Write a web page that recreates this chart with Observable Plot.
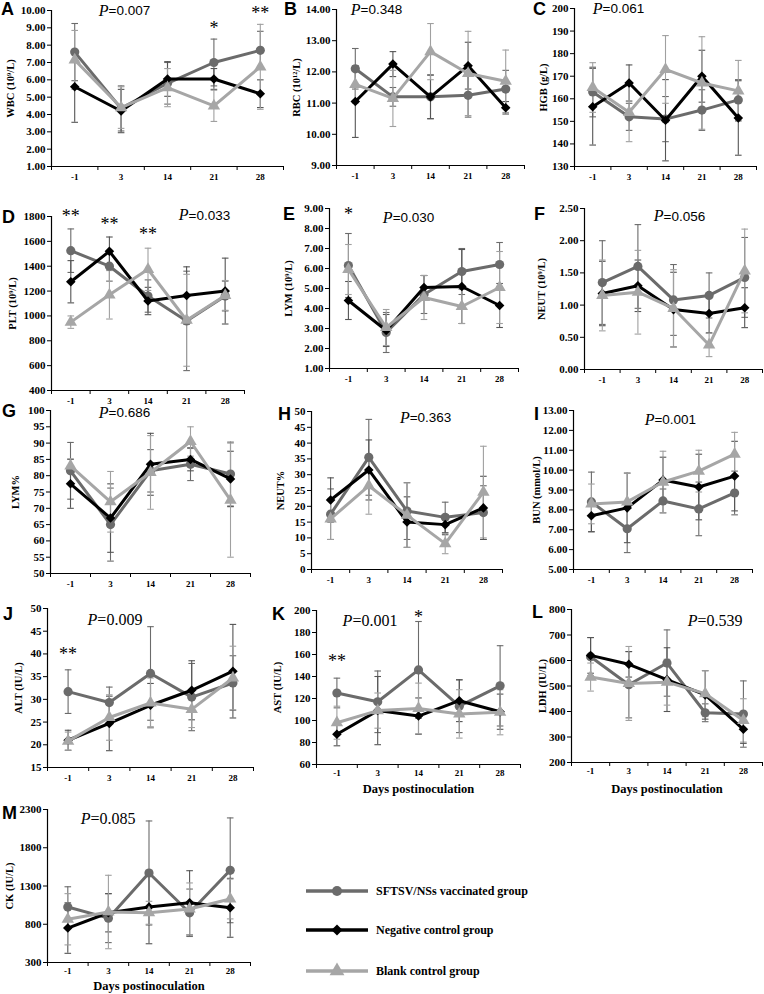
<!DOCTYPE html>
<html><head><meta charset="utf-8">
<script src="https://cdn.jsdelivr.net/npm/d3@7"></script>
<script src="https://cdn.jsdelivr.net/npm/@observablehq/plot@0.6"></script>
<style>
body{margin:0;background:#fff;}
#root{position:relative;width:764px;height:994px;overflow:hidden;background:#fff;}
.letter{position:absolute;font-family:"Liberation Sans",Arial,sans-serif;font-weight:bold;font-size:18px;line-height:1;color:#000;}
.leg{position:absolute;display:flex;align-items:center;font-family:"Liberation Serif","Times New Roman",serif;font-weight:bold;font-size:12px;color:#000;}
</style></head><body><div id="root"></div><script>
// ---- categories & groups ----
const days = ["-1", "3", "14", "21", "28"];
const groups = ["SFTSV/NSs vaccinated group", "Negative control group", "Blank control group"];
const groupColors = ["#6b6b6b", "#000000", "#a6a6a6"];
const errColors = ["#6b6b6b", "#555555", "#a0a0a0"];
const groupSymbols = ["circle", "diamond2", "triangle"];

// ---- values: [vaccinated, negative control, blank control] ----
const wbcMean = [[7.6, 4.35, 5.8, 7.0, 7.7], [5.6, 4.2, 6.05, 6.05, 5.2], [7.15, 4.4, 5.55, 4.5, 6.75]];
const wbcSD = [[1.65, 1.3, 1.2, 1.35, 1.1], [2.05, 1.25, 1.0, 0.6, 0.8], [1.7, 1.2, 1.1, 0.9, 2.45]];
const rbcMean = [[12.1, 11.2, 11.2, 11.25, 11.45], [11.05, 12.25, 11.2, 12.2, 10.85], [11.6, 11.15, 12.65, 11.95, 11.7]];
const rbcSD = [[0.65, 0.3, 0.7, 0.7, 0.6], [1.15, 0.4, 0.7, 0.75, 0.2], [0.6, 0.9, 0.9, 1.35, 1.0]];
const hgbMean = [[163, 152, 151, 155, 159.5], [156.5, 167, 150.5, 170, 151.5], [165, 154, 173, 167, 163.5]];
const hgbSD = [[11, 6, 10, 9, 9], [17, 8, 18, 11.5, 16.5], [11, 13, 15, 20.5, 13.5]];
const pltMean = [[1525, 1400, 1160, 960, 1160], [1275, 1520, 1120, 1165, 1200], [950, 1170, 1375, 965, 1165]];
const pltSD = [[175, 120, 130, 400, 120], [170, 115, 110, 230, 265], [50, 195, 170, 370, 120]];
const lymMean = [[6.15, 2.8, 4.7, 5.85, 6.2], [4.4, 2.9, 5.05, 5.1, 4.15], [5.95, 3.05, 4.55, 4.1, 5.05]];
const lymSD = [[1.6, 1.0, 0.95, 1.15, 1.1], [0.95, 0.8, 0.6, 1.85, 1.1], [1.25, 0.9, 1.1, 0.85, 1.8]];
const neutMean = [[1.35, 1.6, 1.08, 1.15, 1.43], [1.18, 1.3, 0.93, 0.87, 0.96], [1.15, 1.2, 0.95, 0.38, 1.53]];
const neutSD = [[0.65, 0.65, 0.55, 0.35, 0.62], [0.5, 0.4, 0.58, 0.3, 0.31], [0.55, 0.65, 0.6, 0.18, 0.65]];
const lymPctMean = [[81.5, 65, 81.5, 83.5, 80.5], [77.5, 67, 83.5, 85, 79], [83, 72, 81, 90.5, 72.5]];
const lymPctSD = [[8.7, 11.2, 6.5, 5, 9.8], [7.5, 10.5, 9.5, 3.5, 8.5], [2.2, 9.3, 11.3, 4.5, 17.5]];
const neutPctMean = [[17.5, 35.5, 18.5, 16.5, 18], [22, 31.5, 15, 14.2, 19.5], [16, 26.5, 17.2, 8.2, 24.5]];
const neutPctSD = [[8, 12, 9, 4.8, 8.5], [7, 9.5, 8, 3.2, 10], [6.5, 9, 10.2, 3.2, 14.5]];
const bunMean = [[8.4, 7.05, 8.45, 8.05, 8.85], [7.7, 8.1, 9.5, 9.15, 9.7], [8.3, 8.4, 9.4, 9.95, 10.8]];
const bunSD = [[1.5, 1.2, 0.6, 1.35, 1.1], [0.8, 1.75, 1.15, 1.65, 1.75], [1.0, 1.45, 1.55, 1.05, 1.1]];
const altMean = [[31.7, 29.3, 35.7, 30.5, 33.6], [21, 24.7, 28.7, 32, 36.2], [20.8, 26, 29.2, 27.8, 34.7]];
const altSD = [[4.8, 3.4, 10.3, 7.4, 6], [2.2, 6, 4.8, 6.5, 10.3], [2, 5, 5.5, 4, 7]];
const astMean = [[125, 117, 146, 113, 131.5], [87.5, 109, 104, 118, 108], [98, 109, 111, 106, 107.5]];
const astSD = [[13.5, 28, 44, 24, 36.5], [10.5, 31, 16.5, 19, 16], [15, 16, 23, 22, 20.5]];
const ldhMean = [[615, 505, 590, 395, 390], [620, 585, 525, 465, 330], [535, 510, 515, 470, 365]];
const ldhSD = [[75, 130, 130, 35, 130], [70, 50, 125, 95, 55], [55, 145, 90, 90, 85]];
const ckMean = [[1025, 880, 1470, 950, 1505], [750, 950, 1025, 1080, 1015], [865, 960, 950, 1000, 1130]];
const ckSD = [[265, 320, 680, 310, 685], [330, 250, 480, 420, 385], [335, 480, 150, 340, 260]];

// ---- axis labels / p values / significance marks ----
const yLabels = ["WBC (10⁹/L)", "RBC (10¹²/L)", "HGB (g/L)", "PLT (10⁹/L)", "LYM (10⁹/L)", "NEUT (10⁹/L)", "LYM%", "NEUT%", "BUN (mmol/L)", "ALT (IU/L)", "AST (IU/L)", "LDH (IU/L)", "CK (IU/L)"];
const pValues = ["0.007", "0.348", "0.061", "0.033", "0.030", "0.056", "0.686", "0.363", "0.001", "0.009", "0.001", "0.539", "0.085"];
const xTitle = "Days postinoculation";

// ---- layout (frame: left, right, top, bottom in page px) ----
const panels = [
  {L:"A", mean:wbcMean, sd:wbcSD, dom:[1,10], step:1, dec:2, frame:[51,283,10,166], letter:[1,0], ylabX:10, p:[1.23,10.0], pSans:true, stars:[[3.5,9.0,"*"],[4.5,9.85,"**"]]},
  {L:"B", mean:rbcMean, sd:rbcSD, dom:[9,14], step:1, dec:2, frame:[336,524,9,165], letter:[284,0], ylabX:296, p:[0.64,14.0], pSans:true, stars:[]},
  {L:"C", mean:hgbMean, sd:hgbSD, dom:[130,200], step:10, dec:0, frame:[574,756,8,166], letter:[533,0], ylabX:543, p:[0.77,200], pSans:true, stars:[]},
  {L:"D", mean:pltMean, sd:pltSD, dom:[400,1800], step:200, dec:0, frame:[51,244,216,390], letter:[2,208], ylabX:12, p:[3.55,1810], pSans:true, stars:[[0.5,1800,"**"],[1.5,1738,"**"],[2.5,1657,"**"]]},
  {L:"E", mean:lymMean, sd:lymSD, dom:[1,9], step:1, dec:2, frame:[329,518,208,368], letter:[283,205], ylabX:288, p:[1.67,8.55], pSans:true, stars:[[0.5,8.7,"*"]]},
  {L:"F", mean:neutMean, sd:neutSD, dom:[0,2.5], step:0.5, dec:2, frame:[584,762,208,369], letter:[534,205], ylabX:541, p:[2.22,2.38], pSans:true, stars:[]},
  {L:"G", mean:lymPctMean, sd:lymPctSD, dom:[50,100], step:5, dec:0, frame:[50,250,410,573], letter:[2,402], ylabX:15, p:[1.45,99.3], pSans:true, stars:[]},
  {L:"H", mean:neutPctMean, sd:neutPctSD, dom:[0,50], step:5, dec:0, frame:[311,502,411,569], letter:[278,405], ylabX:280, p:[2.57,48], pSans:true, stars:[]},
  {L:"I", mean:bunMean, sd:bunSD, dom:[5,13], step:1, dec:2, frame:[573,752,410,569], letter:[534,405], ylabX:536, p:[2.26,12.55], pSans:true, stars:[]},
  {L:"J", mean:altMean, sd:altSD, dom:[15,50], step:5, dec:0, frame:[47,253,608,767], letter:[3,605], ylabX:18, p:[1.21,47.6], pSans:false, stars:[[0.5,39.9,"**"]]},
  {L:"K", mean:astMean, sd:astSD, dom:[60,200], step:20, dec:0, frame:[316,520,610,764], letter:[272,605], ylabX:277, p:[0.88,191], pSans:false, stars:[[0.5,154,"**"],[2.5,194,"*"]], xt:24},
  {L:"L", mean:ldhMean, sd:ldhSD, dom:[200,800], step:100, dec:0, frame:[571,762,609,762], letter:[532,603], ylabX:542, p:[3.3,757], pSans:false, stars:[], xt:26},
  {L:"M", mean:ckMean, sd:ckSD, dom:[300,2300], step:500, dec:0, frame:[47,250,809,962], letter:[2,804], ylabX:9, p:[1.06,2182], pSans:false, stars:[], xt:23}
];

const capSymbol = {draw(ctx, size) { const w = Math.sqrt(size / Math.PI); ctx.moveTo(-w, 0); ctx.lineTo(w, 0); }};
const markerR = [4.6, 4.3, 4.6];
const root = document.getElementById("root");

panels.forEach((c, k) => {
  const [fl, fr, ft, fb] = c.frame;
  const left = Math.max(0, fl - 62), top = Math.max(0, ft - 14);
  const right = Math.min(764, fr + 6), bottom = fb + (c.xt ? 34 : 22);
  const width = right - left, height = bottom - top;
  const rows = [];
  c.mean.forEach((arr, s) => arr.forEach((m, i) => rows.push({g: s, x: i + 0.5, m, lo: m - c.sd[s][i], hi: m + c.sd[s][i]})));
  const marks = [];
  // error bars
  groups.forEach((g, s) => {
    const r = rows.filter(d => d.g === s);
    marks.push(Plot.ruleX(r, {x: "x", y1: "lo", y2: "hi", stroke: errColors[s], strokeWidth: 1.1}));
    marks.push(Plot.dot(r, {x: "x", y: "lo", symbol: capSymbol, r: 3.3, stroke: errColors[s], strokeWidth: 1.1, fill: "none"}));
    marks.push(Plot.dot(r, {x: "x", y: "hi", symbol: capSymbol, r: 3.3, stroke: errColors[s], strokeWidth: 1.1, fill: "none"}));
  });
  // lines + markers
  groups.forEach((g, s) => {
    const r = rows.filter(d => d.g === s);
    marks.push(Plot.line(r, {x: "x", y: "m", stroke: groupColors[s], strokeWidth: 3}));
    marks.push(Plot.dot(r, {x: "x", y: "m", symbol: groupSymbols[s], r: markerR[s], fill: groupColors[s], stroke: "none"}));
  });
  // axes
  marks.push(Plot.ruleY([c.dom[0]], {stroke: "#000", strokeWidth: 1.2}));
  marks.push(Plot.ruleX([0], {stroke: "#000", strokeWidth: 1.2}));
  marks.push(Plot.axisY({ticks: d3.range(c.dom[0], c.dom[1] + c.step / 2, c.step), tickFormat: d => d.toFixed(c.dec), tickSize: 4, tickPadding: 2, fontSize: 11, label: null}));
  marks.push(Plot.axisX({ticks: d3.range(0, 6), tickFormat: () => "", tickSize: 4, label: null}));
  marks.push(Plot.axisX({ticks: days.map((d, i) => i + 0.5), tickFormat: d => days[Math.floor(d)], tickSize: 0, tickPadding: c.xt ? 5 : 7, fontSize: 9, label: null}));
  marks.push(Plot.text([yLabels[k]], {frameAnchor: "left", rotate: -90, dx: c.ylabX - fl, text: d => d, fontSize: 10.5, textAnchor: "middle", lineAnchor: "middle"}));
  if (c.xt) marks.push(Plot.text([xTitle], {frameAnchor: "bottom", dy: c.xt, text: d => d, fontSize: 12.5, textAnchor: "middle", lineAnchor: "middle"}));
  // p value
  marks.push(Plot.text([c.p], {x: d => d[0], y: d => d[1], text: () => "P", textAnchor: "end", fontStyle: "italic", fontWeight: "normal", fontSize: 16, fontFamily: "Liberation Serif"}));
  marks.push(Plot.text([c.p], {x: d => d[0], y: d => d[1], text: () => "=" + pValues[k], textAnchor: "start", fontWeight: "normal", fontSize: c.pSans ? 13.5 : 16, fontFamily: c.pSans ? "Liberation Sans" : "Liberation Serif"}));
  // significance
  if (c.stars.length) marks.push(Plot.text(c.stars, {x: d => d[0], y: d => d[1], text: d => d[2], fontWeight: "normal", fontSize: 18, fontFamily: "Liberation Serif"}));

  const svg = Plot.plot({
    width, height,
    marginLeft: fl - left, marginRight: right - fr, marginTop: ft - top, marginBottom: bottom - fb,
    x: {domain: [0, 5]},
    y: {domain: c.dom},
    style: {fontFamily: "'Liberation Serif','Times New Roman',serif", fontWeight: "bold", fontSize: "11px", color: "#000", background: "transparent", overflow: "visible"},
    marks
  });
  svg.style.position = "absolute";
  svg.style.left = left + "px";
  svg.style.top = top + "px";
  root.appendChild(svg);

  const lt = document.createElement("div");
  lt.className = "letter";
  lt.textContent = c.L;
  lt.style.left = c.letter[0] + "px";
  lt.style.top = c.letter[1] + "px";
  root.appendChild(lt);
});

// ---- legend ----
const legendY = [891, 930, 971];
groups.forEach((g, s) => {
  const div = document.createElement("div");
  div.className = "leg";
  div.style.left = "304px";
  div.style.top = (legendY[s] - 9) + "px";
  div.style.height = "18px";
  const svg = d3.create("svg").attr("width", 70).attr("height", 18);
  svg.append("line").attr("x1", 2).attr("x2", 64).attr("y1", 9).attr("y2", 9).attr("stroke", groupColors[s]).attr("stroke-width", 3.5);
  const sym = {circle: d3.symbolCircle, diamond2: d3.symbolDiamond2, triangle: d3.symbolTriangle}[groupSymbols[s]];
  const r = s === 0 ? 5 : (s === 1 ? 5 : 5.5);
  svg.append("path").attr("transform", "translate(33,9)").attr("d", d3.symbol(sym, Math.PI * r * r)()).attr("fill", groupColors[s]);
  div.appendChild(svg.node());
  const t = document.createElement("span");
  t.textContent = g;
  t.style.marginLeft = "2px";
  div.appendChild(t);
  root.appendChild(div);
});
</script></body></html>
